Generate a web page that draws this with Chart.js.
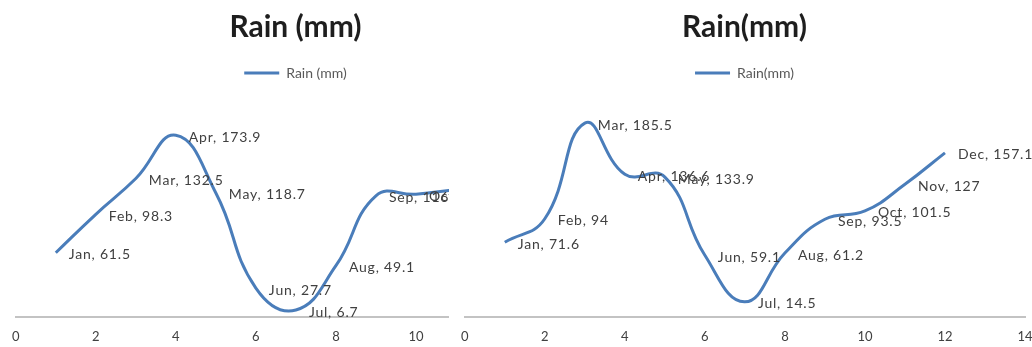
<!DOCTYPE html>
<html lang="en">
<head>
  <meta charset="UTF-8" />
  <title>Rain (mm)</title>
  <script src="https://cdn.jsdelivr.net/npm/chart.js"></script>
  <style>
    body { margin: 0; background: #fff; }
    #wrap { position: relative; width: 1032px; height: 347px; overflow: hidden; }
    .panel { position: absolute; top: 0; width: 596px; height: 347px; background: #fff; }
    #leftPanel { left: 0; z-index: 1; }
    #rightPanel { left: 449px; z-index: 2; }
  </style>
</head>
<body>
  <div id="wrap">
    <div class="panel" id="leftPanel"><canvas id="rainA" width="596" height="347"></canvas></div>
    <div class="panel" id="rightPanel"><canvas id="rainB" width="596" height="347"></canvas></div>
  </div>

  <script>
    // Monthly rainfall, two stations
    const months = ['Jan', 'Feb', 'Mar', 'Apr', 'May', 'Jun', 'Jul', 'Aug', 'Sep', 'Oct', 'Nov', 'Dec'];
    const rainA = [61.5, 98.3, 132.5, 173.9, 118.7, 27.7, 6.7, 49.1, 116, 117.5, 122];
    const rainB = [71.6, 94, 185.5, 136.6, 133.9, 59.1, 14.5, 61.2, 93.5, 101.5, 127, 157.1];
    const xTicks = [0, 2, 4, 6, 8, 10, 12, 14];

    const blue = '#4a7dba';
    const font = 'Lato';

    // "Month, value" label to the right of each point
    const pointLabels = {
      id: 'pointLabels',
      afterDatasetsDraw(chart) {
        const ctx = chart.ctx;
        const meta = chart.getDatasetMeta(0);
        const vals = chart.data.datasets[0].data;
        ctx.save();
        ctx.font = '14px ' + font;
        ctx.letterSpacing = '0.8px';
        ctx.fillStyle = '#404040';
        ctx.textBaseline = 'middle';
        meta.data.forEach((pt, i) => {
          ctx.fillText(months[i] + ', ' + vals[i].y, pt.x + 13, pt.y + 2);
        });
        ctx.restore();
      }
    };

    function makeChart(id, title, values) {
      const pts = values.map((v, i) => ({ x: i + 1, y: v }));
      return new Chart(document.getElementById(id), {
        type: 'line',
        data: {
          datasets: [{
            label: title,
            data: pts,
            borderColor: blue,
            backgroundColor: blue,
            borderWidth: 3,
            pointRadius: 0,
            tension: 0.45,
            clip: false
          }]
        },
        options: {
          responsive: false,
          animation: false,
          layout: { padding: { left: 15, right: 20, top: 14, bottom: 2 } },
          plugins: {
            title: {
              display: true,
              text: title,
              color: '#1e1e1e',
              font: { family: font, size: 30, weight: 'bold', lineHeight: 0.9 },
              padding: { top: 0, bottom: 0 }
            },
            legend: {
              display: true,
              labels: {
                usePointStyle: true,
                pointStyle: 'line',
                pointStyleWidth: 35,
                color: '#595959',
                font: { family: font, size: 14 },
                padding: 25
              }
            },
            tooltip: { enabled: false }
          },
          scales: {
            x: {
              type: 'linear',
              min: 0,
              max: 14,
              afterBuildTicks: (axis) => { axis.ticks = xTicks.map(v => ({ value: v })); },
              afterFit: (axis) => { axis.height = 28; },
              grid: { display: false, drawTicks: false },
              border: { display: true, color: '#c3c3c3', width: 2 },
              ticks: { color: '#404040', font: { family: font, size: 13 }, padding: 12 }
            },
            // empty strip between legend and plot area
            gap: {
              type: 'linear',
              position: 'top',
              axis: 'x',
              afterFit: (axis) => { axis.height = 18; },
              grid: { display: false, drawTicks: false },
              border: { display: false },
              ticks: { display: false }
            },
            y: {
              display: false,
              min: 0,
              max: 200
            }
          }
        },
        plugins: [pointLabels]
      });
    }

    makeChart('rainA', 'Rain (mm)', rainA);
    makeChart('rainB', 'Rain(mm)', rainB);
  </script>
</body>
</html>
